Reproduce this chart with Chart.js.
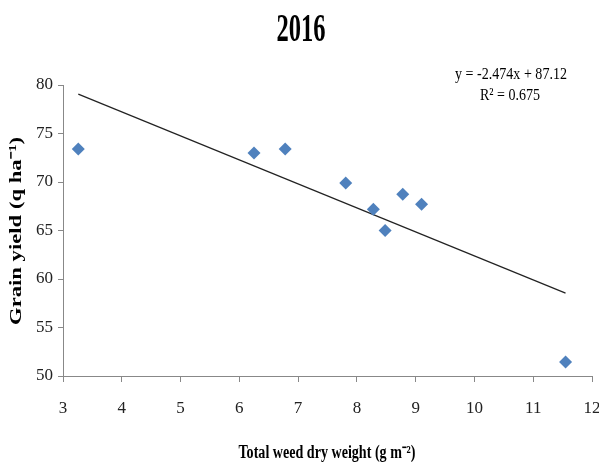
<!DOCTYPE html>
<html>
<head>
<meta charset="utf-8">
<script src="https://cdn.jsdelivr.net/npm/chart.js@4"></script>
<style>
  html, body { margin: 0; padding: 0; background: #fff; }
  #wrap { width: 599px; height: 466px; }
</style>
</head>
<body>
<div id="wrap"><canvas id="weedChart" width="599" height="466"></canvas></div>
<script>
// data
const weedDryWeight = [3.26, 6.25, 6.78, 7.81, 8.28, 8.48, 8.78, 9.10, 11.55];
const grainYield = [73.4, 73.0, 73.4, 69.9, 67.2, 65.0, 68.75, 67.7, 51.45];
const trendSlope = -2.474;
const trendIntercept = 87.12;
const trendLabel = 'y = -2.474x + 87.12';
const r2Label = 'R\u00b2 = 0.675';
const xTicks = [3, 4, 5, 6, 7, 8, 9, 10, 11, 12];
const yTicks = [50, 55, 60, 65, 70, 75, 80];

const serif = '"Liberation Serif", "Times New Roman", serif';

// text squeezed sideways to a given width, like the source image
function drawSqueezed(ctx, text, cx, cy, font, width, rotate) {
  ctx.save();
  ctx.font = font;
  ctx.fillStyle = '#000';
  ctx.textAlign = 'center';
  ctx.textBaseline = 'middle';
  const sx = width / ctx.measureText(text).width;
  ctx.translate(cx, cy);
  if (rotate) ctx.rotate(-Math.PI / 2);
  ctx.scale(sx, 1);
  ctx.fillText(text, 0, 0);
  ctx.restore();
}

const textPlugin = {
  id: 'textPlugin',
  afterDraw(chart) {
    const ctx = chart.ctx;
    drawSqueezed(ctx, '2016', 301, 31, 'bold 40px ' + serif, 49);
    drawSqueezed(ctx, trendLabel, 511, 75, '17px ' + serif, 112);
    drawSqueezed(ctx, r2Label, 510, 96, '17px ' + serif, 60);
    drawSqueezed(ctx, 'Total weed dry weight (g m\u207b\u00b2)', 327, 453, 'bold 18px ' + serif, 177);
    drawSqueezed(ctx, 'Grain yield (q ha\u207b\u00b9)', 17, 231, 'bold 17px ' + serif, 188, true);
  }
};

function initChart() {
  const xMin = Math.min(...weedDryWeight);
  const xMax = Math.max(...weedDryWeight);
  const trendPoints = [xMin, xMax].map(x => ({ x: x, y: trendSlope * x + trendIntercept }));

  new Chart(document.getElementById('weedChart'), {
    type: 'scatter',
    data: {
      datasets: [{
        label: 'Grain yield',
        data: weedDryWeight.map((x, i) => ({ x: x, y: grainYield[i] })),
        pointStyle: 'rectRot',
        pointRadius: 6.5,
        backgroundColor: '#4f81bd',
        borderColor: '#4f81bd',
        borderWidth: 0
      }, {
        label: 'Linear',
        type: 'line',
        data: trendPoints,
        borderColor: '#222',
        borderWidth: 1.2,
        pointRadius: 0,
        fill: false
      }]
    },
    options: {
      responsive: false,
      animation: false,
      layout: { padding: { top: 85, left: 0, right: 7, bottom: 0 } },
      plugins: {
        legend: { display: false },
        tooltip: { enabled: false }
      },
      scales: {
        x: {
          type: 'linear',
          min: xTicks[0],
          max: xTicks[xTicks.length - 1],
          afterBuildTicks(scale) { scale.ticks = xTicks.map(v => ({ value: v })); },
          afterFit(scale) {
            scale.height = 90;
            // let the last label run to the edge as in the source
            scale.paddingRight = 0;
            scale.paddingLeft = 0;
          },
          grid: { drawOnChartArea: false, tickLength: 6, color: '#888' },
          border: { color: '#888' },
          ticks: { color: '#222', padding: 16, font: { family: serif, size: 17 } }
        },
        y: {
          type: 'linear',
          min: yTicks[0],
          max: yTicks[yTicks.length - 1],
          afterBuildTicks(scale) { scale.ticks = yTicks.map(v => ({ value: v })); },
          afterFit(scale) { scale.width = 63; },
          grid: { drawOnChartArea: false, tickLength: 5, color: '#888' },
          border: { color: '#888' },
          ticks: { color: '#222', padding: 5, font: { family: serif, size: 17 } }
        }
      }
    },
    plugins: [textPlugin]
  });
}

document.addEventListener('DOMContentLoaded', initChart);
</script>
</body>
</html>
